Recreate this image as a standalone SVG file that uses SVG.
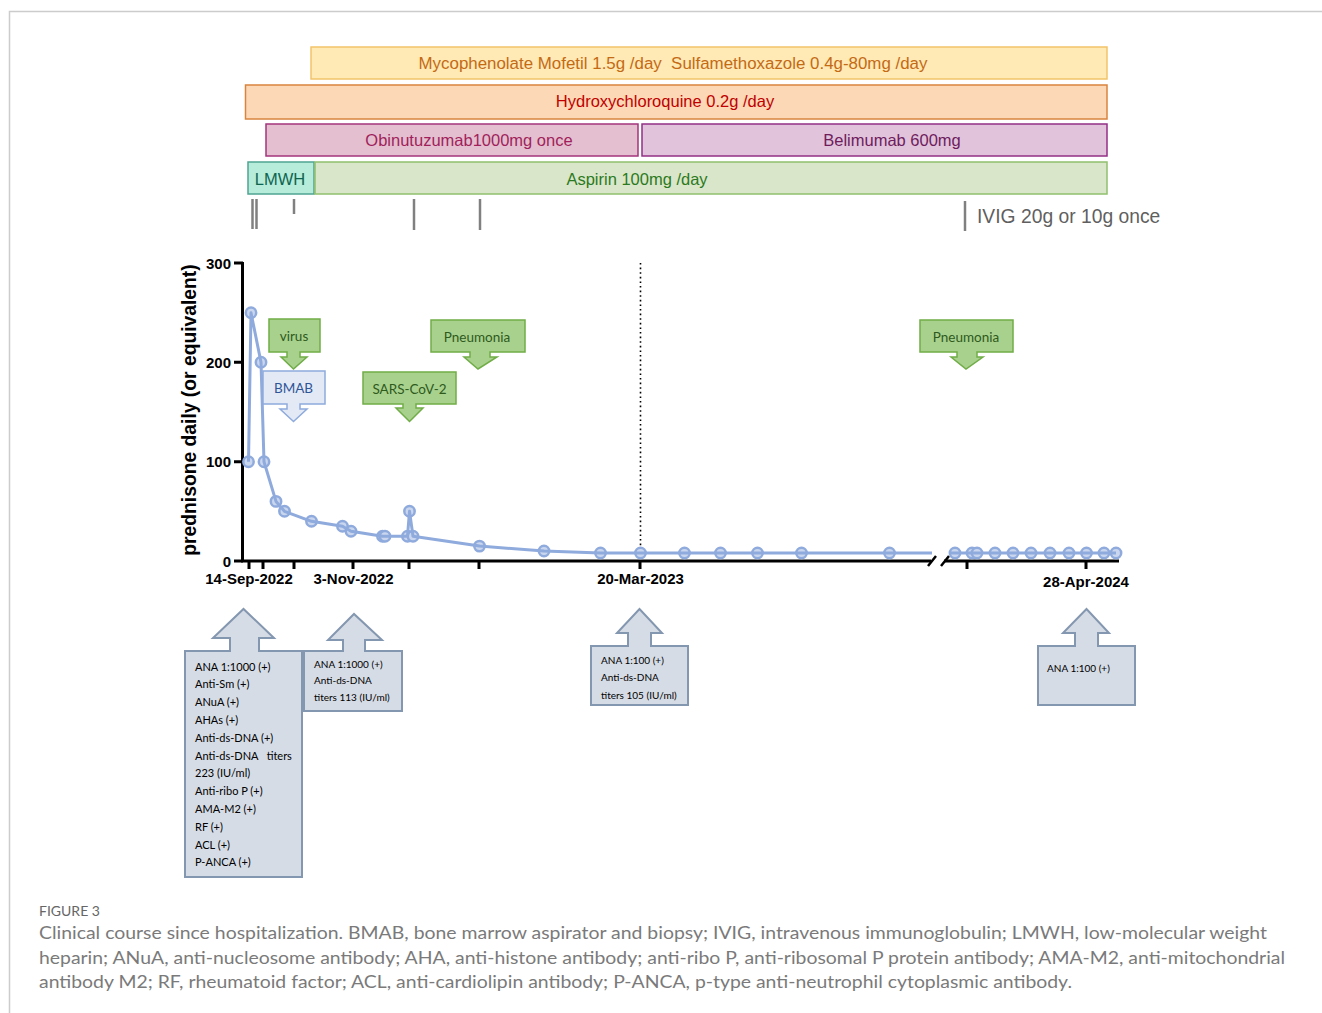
<svg xmlns="http://www.w3.org/2000/svg" width="1322" height="1013" viewBox="0 0 1322 1013">
<style>
.bar{stroke-width:1.5}
.bt{font-family:"Liberation Sans",Arial,sans-serif;font-size:16.5px;text-anchor:middle;white-space:pre}
.tick{stroke:#808080;stroke-width:2.5}
.ax{stroke:#000;stroke-width:3;fill:none}
.al{font-family:"Liberation Sans",Arial,sans-serif;font-weight:bold;font-size:15px;fill:#000}
.xl{font-family:"Liberation Sans",Arial,sans-serif;font-weight:bold;font-size:15px;fill:#000;text-anchor:middle}
.ev{fill:#a9d18e;stroke:#70ad47;stroke-width:1.5}
.evt{font-family:Lato,"Open Sans",sans-serif;font-size:13.5px;fill:#2e5a1c;text-anchor:middle}
.lab{fill:#d6dce5;stroke:#8497b0;stroke-width:2}
.lt{font-family:Lato,"Open Sans",sans-serif;font-size:11px;fill:#000;white-space:pre}
.ls{font-size:10px}
.pt{fill:#c9d6ee;stroke:#8faadc;stroke-width:2.5}
.ln{fill:none;stroke:#8faadc;stroke-width:3;stroke-linejoin:round}
.cap{font-family:Lato,"Open Sans",sans-serif;font-size:18px;fill:#7a7a7a}
</style>
<rect width="1322" height="1013" fill="#fff"/>
<path d="M9.5 1013 V11.5 H1322" fill="none" stroke="#cccccc" stroke-width="1.5"/>

<g id="bars">
<g id="mycophenolate"><rect class="bar" x="311" y="47" width="796" height="32" fill="#ffe9b5" stroke="#f2c46a"/><text class="bt" x="673" y="69" fill="#c46a14" style="font-size:16.9px">Mycophenolate Mofetil 1.5g /day  Sulfamethoxazole 0.4g-80mg /day</text></g>
<g id="hydroxychloroquine"><rect class="bar" x="245.5" y="85" width="861.5" height="34" fill="#fdd8b6" stroke="#d9843e"/><text class="bt" x="665" y="107" fill="#c00000">Hydroxychloroquine 0.2g /day</text></g>
<g id="obinutuzumab"><rect class="bar" x="266" y="124" width="372" height="32" fill="#e4bfcf" stroke="#a4357c"/><text class="bt" x="469" y="145.5" fill="#a01f5c">Obinutuzumab1000mg once</text></g>
<g id="belimumab"><rect class="bar" x="642" y="124" width="465" height="32" fill="#e2c3dc" stroke="#933185"/><text class="bt" x="892" y="145.5" fill="#6e1c5c">Belimumab 600mg</text></g>
<g id="lmwh"><rect class="bar" x="248" y="162" width="66" height="32" fill="#b6ecd9" stroke="#4fa493"/><text class="bt" x="280" y="184.5" fill="#0f6450">LMWH</text></g>
<g id="aspirin"><rect class="bar" x="315" y="162" width="792" height="32" fill="#dae6c9" stroke="#8fc06c"/><text class="bt" x="637" y="184.5" fill="#2b7a22">Aspirin 100mg /day</text></g>
</g>

<g id="ivig">
<line class="tick" x1="252.5" y1="199" x2="252.5" y2="229"/>
<line class="tick" x1="256.5" y1="199" x2="256.5" y2="229"/>
<line class="tick" x1="294" y1="199" x2="294" y2="214"/>
<line class="tick" x1="414" y1="199" x2="414" y2="230"/>
<line class="tick" x1="480" y1="199" x2="480" y2="230"/>
<line class="tick" x1="965" y1="201" x2="965" y2="231"/>
<text x="977" y="222.5" font-family="Liberation Sans, Arial, sans-serif" font-size="19.3" fill="#5f5f5f">IVIG 20g or 10g once</text>
</g>

<g id="axes">
<line x1="640.5" y1="263" x2="640.5" y2="560" stroke="#000" stroke-width="1.6" stroke-dasharray="1.6 3"/>
<path class="ax" d="M242.5 262 V561 H931"/>
<path class="ax" d="M944 561 H1119"/>
<path d="M928 566 L936 556 M941 566 L949 556" stroke="#000" stroke-width="2.5"/>
<path class="ax" d="M234 263 H243 M234 362.3 H243 M234 461.7 H243 M234 561 H243"/>
<path class="ax" d="M249 561 V569 M263 561 V569 M294 561 V569 M353 561 V569 M409 561 V569 M479 561 V569 M640 561 V569 M967 561 V569 M1086 561 V569"/>
<text class="al" x="231" y="268.5" text-anchor="end">300</text>
<text class="al" x="231" y="367.8" text-anchor="end">200</text>
<text class="al" x="231" y="467.2" text-anchor="end">100</text>
<text class="al" x="231" y="566.5" text-anchor="end">0</text>
<text class="xl" x="249" y="584">14-Sep-2022</text>
<text class="xl" x="353.5" y="584">3-Nov-2022</text>
<text class="xl" x="640.5" y="584">20-Mar-2023</text>
<text class="xl" x="1086" y="587">28-Apr-2024</text>
<text transform="translate(196 410) rotate(-90)" font-family="Liberation Sans, Arial, sans-serif" font-weight="bold" font-size="19.3" text-anchor="middle">prednisone daily (or equivalent)</text>
</g>

<g id="series">
<g id="markers">
<circle class="pt" cx="248.5" cy="461.7" r="5.2"/><circle class="pt" cx="251" cy="312.7" r="5.2"/><circle class="pt" cx="261" cy="362.3" r="5.2"/><circle class="pt" cx="264" cy="461.7" r="5.2"/>
<circle class="pt" cx="276" cy="501.4" r="5.2"/><circle class="pt" cx="284.5" cy="511.3" r="5.2"/><circle class="pt" cx="311.5" cy="521.3" r="5.2"/><circle class="pt" cx="342.5" cy="526.2" r="5.2"/>
<circle class="pt" cx="351" cy="531.2" r="5.2"/><circle class="pt" cx="382.5" cy="536.2" r="5.2"/><circle class="pt" cx="385" cy="536.2" r="5.2"/><circle class="pt" cx="407.5" cy="536.2" r="5.2"/>
<circle class="pt" cx="409.5" cy="511.3" r="5.2"/><circle class="pt" cx="413" cy="536.2" r="5.2"/><circle class="pt" cx="479.5" cy="546.1" r="5.2"/><circle class="pt" cx="544" cy="551" r="5.2"/>
<circle class="pt" cx="600.5" cy="553" r="5.2"/><circle class="pt" cx="640.5" cy="553" r="5.2"/><circle class="pt" cx="684.5" cy="553" r="5.2"/><circle class="pt" cx="720.5" cy="553" r="5.2"/>
<circle class="pt" cx="757.5" cy="553" r="5.2"/><circle class="pt" cx="801.5" cy="553" r="5.2"/><circle class="pt" cx="889.5" cy="553" r="5.2"/>
<circle class="pt" cx="955" cy="553" r="5.2"/><circle class="pt" cx="972" cy="553" r="5.2"/><circle class="pt" cx="977" cy="553" r="5.2"/><circle class="pt" cx="995" cy="553" r="5.2"/>
<circle class="pt" cx="1013" cy="553" r="5.2"/><circle class="pt" cx="1031" cy="553" r="5.2"/><circle class="pt" cx="1050" cy="553" r="5.2"/><circle class="pt" cx="1069" cy="553" r="5.2"/>
<circle class="pt" cx="1086.5" cy="553" r="5.2"/><circle class="pt" cx="1104" cy="553" r="5.2"/><circle class="pt" cx="1116" cy="553" r="5.2"/>
</g>
<path class="ln" d="M248.5 461.7 L251 312.7 L261 362.3 L264 461.7 L276 501.4 L284.5 511.3 L311.5 521.3 L342.5 526.2 L351 531.2 L382.5 536.2 L407.5 536.2 L409.5 511.3 L413 536.2 L479.5 546.1 L544 551 L600.5 553 H932"/>
<path class="ln" d="M949 553 H1116"/>
</g>

<g id="events">
<g id="ev-virus"><path class="ev" d="M269 319 H320 V352 H300 V357 H307 L293.5 369 L281 357 H287 V352 H269 Z"/><text class="evt" x="294" y="341">virus</text></g>
<g id="ev-bmab"><path d="M263 371 H325 V404 H300 V409 H307 L293.5 421.5 L280 409 H287 V404 H263 Z" fill="#e3eaf6" stroke="#8faadc" stroke-width="1.5"/><text class="evt" x="293.5" y="393" style="fill:#2f5597">BMAB</text></g>
<g id="ev-sars"><path class="ev" d="M363 372 H456 V404 H416 V408 H423 L409.5 421.5 L396 408 H403 V404 H363 Z"/><text class="evt" x="409.5" y="393.5">SARS-CoV-2</text></g>
<g id="ev-pneumonia1"><path class="ev" d="M431 320 H525 V352 H490 V357 H497 L478 369 L464 357 H470 V352 H431 Z"/><text class="evt" x="477" y="341.5">Pneumonia</text></g>
<g id="ev-pneumonia2"><path class="ev" d="M920 320 H1013 V352 H977 V357 H983 L966 369 L951 357 H957 V352 H920 Z"/><text class="evt" x="966" y="341.5">Pneumonia</text></g>
</g>

<g id="labs">
<g id="lab1"><path class="lab" d="M185 651 H230 V638 H213 L243.5 609 L274 638 H259 V651 H302 V877 H185 Z"/>
<text class="lt" x="195" y="670.5">ANA 1:1000 (+)</text>
<text class="lt" x="195" y="688.3">Anti-Sm (+)</text>
<text class="lt" x="195" y="706.1">ANuA (+)</text>
<text class="lt" x="195" y="723.9">AHAs (+)</text>
<text class="lt" x="195" y="741.7">Anti-ds-DNA (+)</text>
<text class="lt" x="195" y="759.5">Anti-ds-DNA   titers</text>
<text class="lt" x="195" y="777.3">223 (IU/ml)</text>
<text class="lt" x="195" y="795.1">Anti-ribo P (+)</text>
<text class="lt" x="195" y="812.9">AMA-M2 (+)</text>
<text class="lt" x="195" y="830.7">RF (+)</text>
<text class="lt" x="195" y="848.5">ACL (+)</text>
<text class="lt" x="195" y="866.3">P-ANCA (+)</text>
</g>
<g id="lab2"><path class="lab" d="M304 651 H343 V640 H328 L354 614 L382 640 H365 V651 H402 V711 H304 Z"/>
<text class="lt ls" x="314" y="667.5">ANA 1:1000 (+)</text>
<text class="lt ls" x="314" y="684">Anti-ds-DNA</text>
<text class="lt ls" x="314" y="700.5">titers 113 (IU/ml)</text>
</g>
<g id="lab3"><path class="lab" d="M591 646 H628 V633 H617 L639.5 609 L662 633 H651 V646 H688 V705 H591 Z"/>
<text class="lt ls" x="601" y="664">ANA 1:100 (+)</text>
<text class="lt ls" x="601" y="681">Anti-ds-DNA</text>
<text class="lt ls" x="601" y="698.5">titers 105 (IU/ml)</text>
</g>
<g id="lab4"><path class="lab" d="M1038 646 H1075 V633 H1063 L1086.5 609 L1109 633 H1098 V646 H1135 V705 H1038 Z"/>
<text class="lt ls" x="1047" y="671.5">ANA 1:100 (+)</text>
</g>
</g>

<g id="caption">
<text x="39" y="916" font-family="Lato, 'Open Sans', sans-serif" font-size="14" fill="#666">FIGURE 3</text>
<text class="cap" x="39" y="939" textLength="1228" lengthAdjust="spacingAndGlyphs">Clinical course since hospitalization. BMAB, bone marrow aspirator and biopsy; IVIG, intravenous immunoglobulin; LMWH, low-molecular weight</text>
<text class="cap" x="39" y="963.5" textLength="1246" lengthAdjust="spacingAndGlyphs">heparin; ANuA, anti-nucleosome antibody; AHA, anti-histone antibody; anti-ribo P, anti-ribosomal P protein antibody; AMA-M2, anti-mitochondrial</text>
<text class="cap" x="39" y="988" textLength="1033" lengthAdjust="spacingAndGlyphs">antibody M2; RF, rheumatoid factor; ACL, anti-cardiolipin antibody; P-ANCA, p-type anti-neutrophil cytoplasmic antibody.</text>
</g>
</svg>
